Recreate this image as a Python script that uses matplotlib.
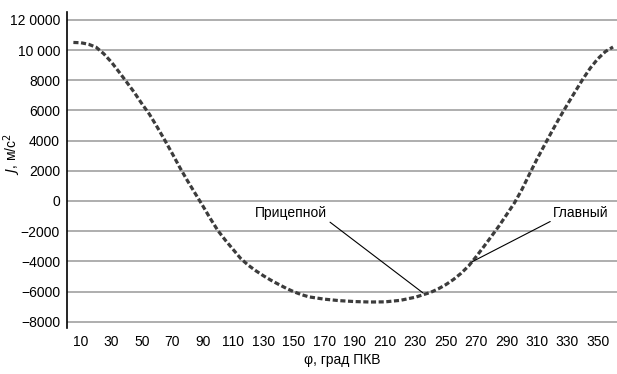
import numpy as np
import matplotlib
matplotlib.use("Agg")
from matplotlib import pyplot as plt

# crank angle, deg and acceleration J, m/s^2
phi = [5, 10, 15, 20, 25, 30, 35, 40, 45, 50, 55, 60, 65, 70, 75, 80, 85, 90,
       95, 100, 105, 110, 115, 120, 125, 130, 135, 140, 145, 150, 155, 160,
       170, 180, 190, 200, 210, 220, 230, 240, 245, 250, 255, 260, 265, 270,
       275, 280, 285, 290, 295, 300, 305, 310, 315, 320, 325, 330, 335, 340,
       345, 350, 355, 360]
acc = [10500, 10480, 10380, 10180, 9750, 9200, 8550, 7880, 7200, 6450, 5750,
       4920, 4050, 3150, 2220, 1350, 520, -300, -1150, -1950, -2600, -3200,
       -3800, -4250, -4620, -4950, -5250, -5520, -5780, -6010, -6200, -6350,
       -6500, -6600, -6660, -6690, -6680, -6580, -6370, -6050, -5820, -5540,
       -5200, -4790, -4300, -3680, -3020, -2340, -1650, -900, -150, 750, 1780,
       2780, 3720, 4650, 5550, 6400, 7230, 8050, 8800, 9420, 9900, 10200]

xticks = list(range(10, 360, 20))
yticks = [-8000, -6000, -4000, -2000, 0, 2000, 4000, 6000, 8000, 10000, 12000]
ylabels = ["\u22128000", "\u22126000", "\u22124000", "\u22122000", "0", "2000",
           "4000", "6000", "8000", "10 000", "12 0000"]

plt.rcParams['font.family'] = ['Liberation Sans Narrow', 'Liberation Sans', 'DejaVu Sans']

fig = plt.figure(figsize=(6.17, 3.74), dpi=100)
ax = fig.add_axes([67/617, 1-328/374, 1-67/617, (328-12)/374])

ax.plot(phi, acc, color='#3c3c3c', lw=2.3, dashes=(1.6, 0.8))

ax.set_xlim(0.8, 362.6)
ax.set_ylim(-8411, 12517)
ax.set_xticks(xticks)
ax.set_yticks(yticks)
ax.set_yticklabels(ylabels)
ax.tick_params(length=0, labelsize=10, pad=5)
ax.grid(axis='y', color='#a8a8a8', lw=1.3)
ax.set_axisbelow(True)
for s in ['top', 'right', 'bottom']:
    ax.spines[s].set_visible(False)
ax.spines['left'].set_linewidth(1.2)

ax.set_ylabel(r"$J$, м/с$^2$", fontsize=10)
ax.yaxis.set_label_coords(-0.08, 0.55)
ax.set_xlabel("\u03c6, град ПКВ", fontsize=10, labelpad=3)

ax.annotate("Прицепной", xy=(235, -6090), xytext=(172, -800),
            ha='right', va='center', fontsize=10,
            arrowprops=dict(arrowstyle='-', color='black', lw=0.8,
                            relpos=(1, 0), shrinkA=0, shrinkB=0))
ax.annotate("Главный", xy=(267, -4040), xytext=(320.5, -800),
            ha='left', va='center', fontsize=10,
            arrowprops=dict(arrowstyle='-', color='black', lw=0.8,
                            relpos=(0, 0), shrinkA=0, shrinkB=0))

fig.savefig("out.png", dpi=100)
